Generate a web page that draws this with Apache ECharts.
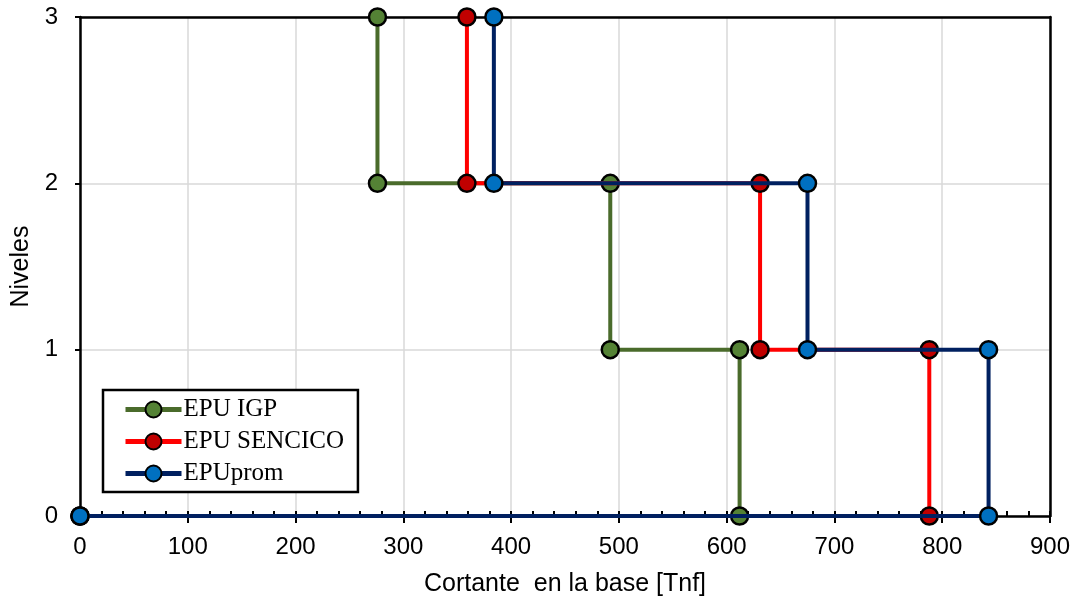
<!DOCTYPE html>
<html>
<head>
<meta charset="utf-8">
<script src="https://cdn.jsdelivr.net/npm/echarts@6/dist/echarts.min.js"></script>
<style>html,body{margin:0;padding:0;background:#fff}#c{width:1080px;height:605px}</style>
</head>
<body>
<div id="c"></div>
<script>
var seriesNames = ['EPU IGP', 'EPU SENCICO', 'EPUprom'];
var igpData = [[276,3],[276,2],[492,2],[492,1],[612,1],[612,0],[0,0]];
var sencicoData = [[359,3],[359,2],[631,2],[631,1],[788,1],[788,0],[0,0]];
var promData = [[384,3],[384,2],[675,2],[675,1],[843,1],[843,0],[0,0]];
var xTicks = [0,100,200,300,400,500,600,700,800,900];
var yTicks = [0,1,2,3];

var lineColors = ['#4A6B2B', '#FF0000', '#002060'];
var fillColors = ['#548235', '#C00000', '#0070C0'];
var datasets = [igpData, sencicoData, promData];

var chart = echarts.init(document.getElementById('c'));
var series = seriesNames.map(function(n, i){
  return {
    name: n, type: 'line', data: datasets[i], xAxisIndex: 0, yAxisIndex: 0,
    symbol: 'circle', symbolSize: 17,
    lineStyle: {color: lineColors[i], width: 4},
    itemStyle: {color: fillColors[i], borderColor: '#000', borderWidth: 2.5},
    emphasis: {disabled: true},
    z: 2 + i
  };
});
var frameAxisX = {
  type: 'value', min: 0, max: 900, interval: 100, position: 'top',
  axisLine: {show: true, onZero: false, lineStyle: {color: '#000', width: 2.5}},
  axisTick: {show: false}, axisLabel: {show: false}, splitLine: {show: false}
};
chart.setOption({
  animation: false,
  backgroundColor: '#fff',
  grid: {left: 80, right: 30, top: 17, bottom: 89, show: false},
  legend: {
    orient: 'vertical', left: 103, top: 390,
    data: seriesNames,
    itemWidth: 56, itemHeight: 20, itemGap: 7,
    padding: [7, 14, 6, 20],
    borderColor: '#000', borderWidth: 2.5, backgroundColor: '#fff',
    lineStyle: {width: 5},
    textStyle: {fontFamily: 'Liberation Serif', fontSize: 25, color: '#000', padding: [0,0,0,-3]}
  },
  xAxis: [{
    type: 'value', min: 0, max: 900, interval: 100,
    name: 'Cortante  en la base [Tnf]', nameLocation: 'middle', nameGap: 56,
    nameTextStyle: {fontFamily: 'Liberation Sans', fontSize: 25, color: '#000'},
    axisLine: {show: true, onZero: false, lineStyle: {color: '#000', width: 2.5}},
    axisTick: {show: true, inside: false, length: 7, lineStyle: {color: '#000', width: 2}},
    axisLabel: {fontFamily: 'Liberation Sans', fontSize: 24, color: '#000', margin: 19,
      formatter: function(v){ return xTicks.indexOf(v) >= 0 ? String(v) : ''; }},
    splitLine: {show: true, lineStyle: {color: '#d9d9d9', width: 1.5}}
  }, {
    type: 'value', min: 0, max: 900, interval: 100, position: 'bottom',
    axisLine: {show: false}, axisLabel: {show: false}, splitLine: {show: false},
    axisTick: {show: true, inside: true, length: 5, lineStyle: {color: '#000', width: 2}},
    minorTick: {show: true, splitNumber: 5, length: 5, lineStyle: {color: '#000', width: 2}}
  }, frameAxisX],
  yAxis: [{
    type: 'value', min: 0, max: 3, interval: 1,
    name: 'Niveles', nameLocation: 'middle', nameGap: 45,
    nameTextStyle: {fontFamily: 'Liberation Sans', fontSize: 25, color: '#000'},
    axisLine: {show: true, onZero: false, lineStyle: {color: '#000', width: 2.5}},
    axisTick: {show: true, inside: false, length: 5, lineStyle: {color: '#000', width: 2}},
    axisLabel: {fontFamily: 'Liberation Sans', fontSize: 24, color: '#000', margin: 22,
      formatter: function(v){ return yTicks.indexOf(v) >= 0 ? String(v) : ''; }},
    splitLine: {show: true, lineStyle: {color: '#d9d9d9', width: 1.5}}
  }, {
    type: 'value', min: 0, max: 3, interval: 1, position: 'right',
    axisLine: {show: true, onZero: false, lineStyle: {color: '#000', width: 2.5}},
    axisTick: {show: false}, axisLabel: {show: false}, splitLine: {show: false}
  }],
  series: series
});
</script>
</body>
</html>
